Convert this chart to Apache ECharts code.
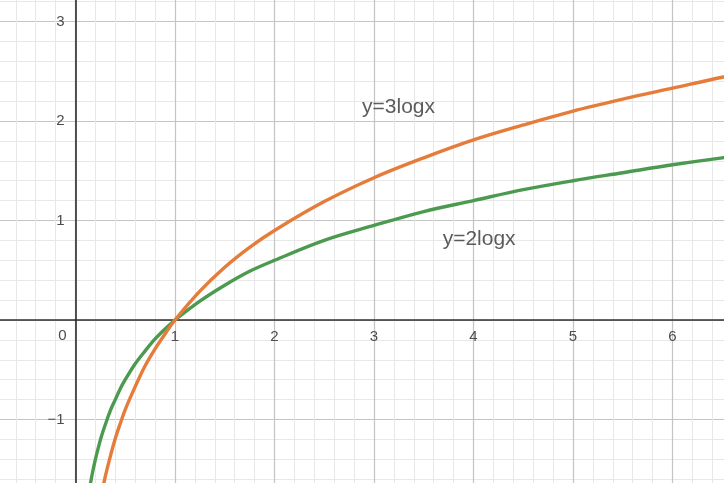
<!DOCTYPE html>
<html>
<head>
<meta charset="utf-8">
<script src="https://cdn.jsdelivr.net/npm/echarts@6/dist/echarts.min.js"></script>
<style>
  html, body { margin: 0; padding: 0; background: #ffffff; }
  #chart { width: 724px; height: 483px; }
</style>
</head>
<body>
<div id="chart"></div>
<script>
// Sample points along the two curves
const xValues = [0.12, 0.14, 0.16, 0.18, 0.2, 0.23, 0.26, 0.3, 0.35, 0.4, 0.45, 0.5, 0.6, 0.7, 0.8, 0.9, 1,
  1.25, 1.5, 1.75, 2, 2.5, 3, 3.5, 4, 4.5, 5, 5.5, 6, 6.5, 7];
const y3log = [-2.76, -2.56, -2.39, -2.23, -2.10, -1.91, -1.76, -1.57, -1.37, -1.19, -1.04, -0.90, -0.67, -0.46, -0.29, -0.14, 0,
  0.29, 0.53, 0.73, 0.90, 1.19, 1.43, 1.63, 1.81, 1.96, 2.10, 2.22, 2.33, 2.44, 2.54];
const y2log = [-1.84, -1.71, -1.59, -1.49, -1.40, -1.28, -1.17, -1.05, -0.91, -0.80, -0.69, -0.60, -0.44, -0.31, -0.19, -0.09, 0,
  0.19, 0.35, 0.49, 0.60, 0.80, 0.95, 1.09, 1.20, 1.31, 1.40, 1.48, 1.56, 1.63, 1.69];

// Curve captions: [text, x, y]
const curveLabels = [
  ['y=3logx', 2.88, 2.14],
  ['y=2logx', 3.69, 0.81]
];

// Axis ranges and tick spacing
const xRange = [-1, 7];
const yRange = [-2, 4];
const majorStep = 1;
const minorDivisions = 5;

// Plot area extends past the canvas so the view starts just left of the y-axis
const gridBox = { left: -24, right: -48, top: -78, bottom: -36 };
const W = 724, H = 483;
const unitX = (W - gridBox.left - gridBox.right) / (xRange[1] - xRange[0]);
const unitY = (H - gridBox.top - gridBox.bottom) / (yRange[1] - yRange[0]);

const chart = echarts.init(document.getElementById('chart'));

const toMinus = v => (v < 0 ? '\u2212' + Math.abs(v) : String(v));
const labelFont = 'Liberation Sans, Arial, sans-serif';

function axisCommon(min, max) {
  return {
    type: 'value',
    min: min,
    max: max,
    interval: majorStep,
    axisLine: { onZero: false, lineStyle: { color: '#2e2e2e', width: 1.6 } },
    axisTick: { show: false },
    minorTick: { show: false, splitNumber: minorDivisions },
    splitLine: { show: true, lineStyle: { color: '#c4c4c4', width: 1.2 } },
    minorSplitLine: { show: true, lineStyle: { color: '#e8e8e8', width: 1 } }
  };
}

// Move each axis line (and its labels) onto the zero of the other axis
const xAxis = Object.assign(axisCommon(xRange[0], xRange[1]), {
  position: 'bottom',
  offset: -(0 - yRange[0]) * unitY,
  axisLabel: {
    color: '#4d4d4d',
    fontSize: 15,
    fontFamily: labelFont,
    margin: 9,
    formatter: v => (v === 0 ? '' : toMinus(v))
  }
});

const yAxis = Object.assign(axisCommon(yRange[0], yRange[1]), {
  position: 'left',
  offset: -(0 - xRange[0]) * unitX,
  axisLabel: {
    color: '#4d4d4d',
    fontSize: 15,
    fontFamily: labelFont,
    margin: 11,
    formatter: v => (v === 0 ? '' : toMinus(v))
  }
});

const pairs = ys => xValues.map((x, i) => [x, ys[i]]);

chart.setOption({
  animation: false,
  backgroundColor: '#ffffff',
  grid: Object.assign({ containLabel: false, outerBoundsMode: 'none' }, gridBox),
  xAxis: xAxis,
  yAxis: yAxis,
  series: [
    {
      name: 'y=2logx',
      type: 'line',
      data: pairs(y2log),
      smooth: 0.35,
      showSymbol: false,
      clip: true,
      lineStyle: { color: '#4b9a4f', width: 3.4 },
      z: 3
    },
    {
      name: 'y=3logx',
      type: 'line',
      data: pairs(y3log),
      smooth: 0.35,
      showSymbol: false,
      clip: true,
      lineStyle: { color: '#e57c3a', width: 3.4 },
      z: 4
    },
    {
      name: 'captions',
      type: 'scatter',
      data: curveLabels.map(c => ({ value: [c[1], c[2]], name: c[0] })),
      symbolSize: 0,
      label: {
        show: true,
        position: 'right',
        offset: [-5, 0],
        formatter: p => p.name,
        color: '#333333',
        fontSize: 21,
        fontFamily: labelFont
      },
      silent: true,
      z: 5
    }
  ]
});

// Origin label sits below-left of where the axes cross
const origin = chart.convertToPixel({ gridIndex: 0 }, [0, 0]);
chart.setOption({
  graphic: [{
    type: 'text',
    x: origin[0] - 13,
    y: origin[1] + 16,
    style: {
      text: '0',
      fill: '#4d4d4d',
      font: '15px "Liberation Sans", Arial, sans-serif',
      align: 'center',
      verticalAlign: 'middle'
    }
  }]
});
</script>
</body>
</html>
